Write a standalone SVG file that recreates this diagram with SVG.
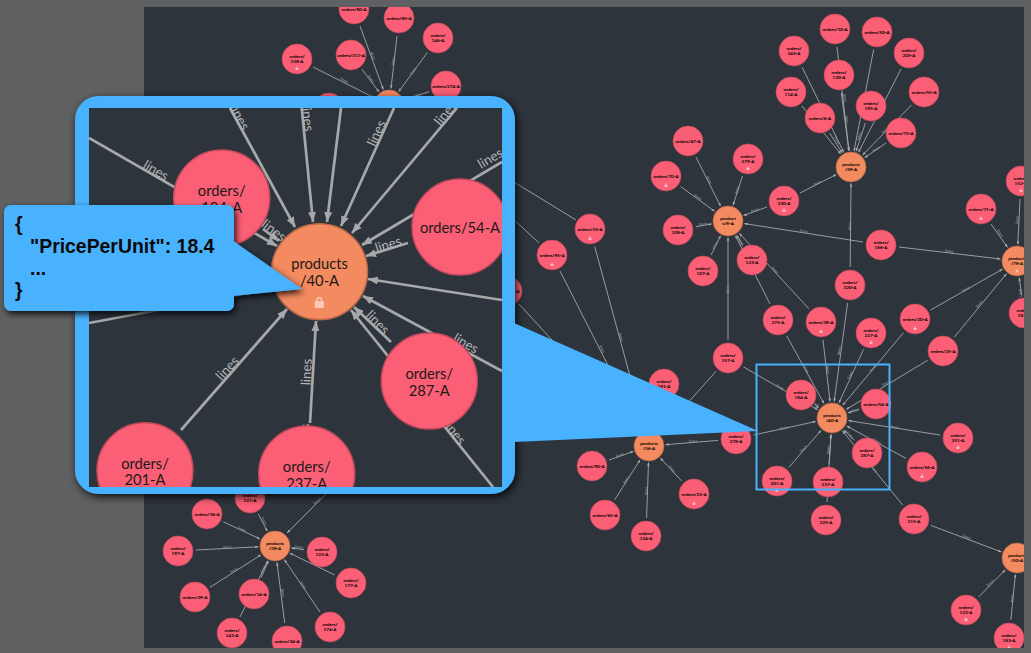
<svg xmlns="http://www.w3.org/2000/svg" width="1031" height="653" viewBox="0 0 1031 653">
<style>
text{font-family:Lato,"Open Sans","Liberation Sans",sans-serif;text-anchor:middle}
.e{stroke:#a6a8a9;stroke-width:.9;fill:none;marker-end:url(#a)}
.i{stroke-width:2.7}
.n{stroke:#a6a8a9;stroke-width:2.7;fill:none}
.l{font-size:4.2px;fill:#98a3ab;dominant-baseline:central}
.li{font-size:13.4px;fill:#b4b6b7;dominant-baseline:central}
.o{fill:#fa5f75;stroke:#c64a5c;stroke-width:.7}
.p{fill:#f48a5f;stroke:#b9684a;stroke-width:.7}
.oi{stroke-width:1.5}
.t{font-size:4.6px;fill:#000;stroke:#000;stroke-width:.12}
.ti{font-size:14.7px;fill:#1a1a1a}
.j{font-family:"Liberation Sans",Arial,sans-serif;font-weight:700;font-size:19.4px;fill:#0a0a0a;text-anchor:start}
.b{fill:#48b2ff}
.lk{fill:#fff;fill-opacity:.55}
</style>
<defs>
<marker id="a" viewBox="0 0 3.7 3" refX="3.7" refY="1.5" markerWidth="3.7" markerHeight="3" orient="auto" markerUnits="strokeWidth"><path d="M0,0L3.7,1.5L0,3Z" fill="#a6a8a9"/></marker>
<g id="lock"><rect x="-4.6" y="-1.6" width="9.2" height="6.8" rx="1.2"/><path d="M-3,-1.6V-2.6a3,3 0 0 1 6,0V-1.6H1.7V-2.6a1.7,1.7 0 0 0 -3.4,0V-1.6Z"/></g>
<clipPath id="cv"><rect x="144" y="7" width="880" height="641"/></clipPath>
<clipPath id="ci"><rect x="89" y="108" width="413" height="379"/></clipPath>
<filter id="sh" x="-10%" y="-10%" width="125%" height="125%"><feDropShadow dx="2" dy="3" stdDeviation="4" flood-color="#000" flood-opacity=".85"/></filter>
<filter id="sh2" x="-10%" y="-15%" width="125%" height="135%"><feDropShadow dx="2" dy="3" stdDeviation="3" flood-color="#000" flood-opacity=".85"/></filter>
</defs>
<rect width="1031" height="653" fill="#5f6062"/>
<rect x="144" y="7" width="880" height="641" fill="#2d343c"/>
<g id="graph" clip-path="url(#cv)">
<g id="connectors">
<line class="e" x1="837" y1="47" x2="849" y2="151"/>
<line class="e" x1="873.6" y1="49.7" x2="854" y2="151"/>
<line class="e" x1="901" y1="69" x2="858.5" y2="152.3"/>
<line class="e" x1="911.5" y1="105" x2="862.5" y2="155.2"/>
<line class="e" x1="802" y1="67" x2="843.7" y2="152.2"/>
<line class="e" x1="841.3" y1="92.8" x2="848.9" y2="150.6"/>
<line class="e" x1="802" y1="106" x2="840.7" y2="154"/>
<line class="e" x1="865.4" y1="123" x2="856" y2="151.3"/>
<line class="e" x1="829.6" y1="133" x2="842.2" y2="153"/>
<line class="e" x1="886" y1="143" x2="864.6" y2="157.7"/>
<line class="e" x1="800" y1="193" x2="836.3" y2="174.5"/>
<line class="e" x1="850.2" y1="267" x2="851" y2="183.5"/>
<line class="e" x1="696" y1="157" x2="720.6" y2="206.2"/>
<line class="e" x1="742.5" y1="176" x2="733" y2="205.3"/>
<line class="e" x1="680.6" y1="186.6" x2="714.7" y2="211.3"/>
<line class="e" x1="695.7" y1="226.8" x2="711.8" y2="223.9"/>
<line class="e" x1="711" y1="255" x2="720.6" y2="235.8"/>
<line class="e" x1="767" y1="207" x2="743.5" y2="215.5"/>
<line class="e" x1="863" y1="242" x2="744.3" y2="223.6"/>
<line class="e" x1="742.6" y1="244.7" x2="736.6" y2="235"/>
<line class="e" x1="770" y1="304" x2="735.4" y2="235.7"/>
<line class="e" x1="808.8" y1="308.7" x2="739.2" y2="233.2"/>
<line class="e" x1="728" y1="340" x2="728" y2="237.5"/>
<line class="e" x1="899" y1="247" x2="1000.6" y2="259"/>
<line class="e" x1="991" y1="224" x2="1007.6" y2="247.4"/>
<line class="e" x1="1020" y1="199" x2="1017.8" y2="244.5"/>
<line class="e" x1="1021.6" y1="295" x2="1019.2" y2="277.4"/>
<line class="e" x1="930.6" y1="310" x2="1002.7" y2="269"/>
<line class="e" x1="954.4" y1="337" x2="1006.5" y2="273.7"/>
<line class="e" x1="815" y1="405" x2="818.8" y2="408.2"/>
<line class="e" x1="743.6" y1="367" x2="817.7" y2="409.8"/>
<line class="e" x1="786.7" y1="335.8" x2="824" y2="403.6"/>
<line class="e" x1="823" y1="340" x2="830" y2="401.6"/>
<line class="e" x1="847.6" y1="303" x2="834.2" y2="401.6"/>
<line class="e" x1="863.5" y1="349.4" x2="838.9" y2="403"/>
<line class="e" x1="903.4" y1="332.8" x2="842.6" y2="405.3"/>
<line class="e" x1="927.6" y1="360.3" x2="846.1" y2="409.5"/>
<line class="e" x1="858.8" y1="409.5" x2="847.7" y2="413"/>
<line class="e" x1="940" y1="435" x2="848.3" y2="420.6"/>
<line class="e" x1="906" y1="458.4" x2="846.5" y2="425.9"/>
<line class="e" x1="854.3" y1="440.3" x2="843.7" y2="429.7"/>
<line class="e" x1="902.7" y1="505" x2="842.4" y2="430.8"/>
<line class="e" x1="788.8" y1="467.4" x2="821.1" y2="430.4"/>
<line class="e" x1="829" y1="464" x2="831" y2="434.5"/>
<line class="e" x1="827" y1="502" x2="831" y2="434.5"/>
<line class="e" x1="753.6" y1="435" x2="815.8" y2="421.5"/>
<line class="e" x1="718" y1="440.4" x2="665.5" y2="444.7"/>
<line class="e" x1="609" y1="460" x2="633.4" y2="451.5"/>
<line class="e" x1="614.7" y1="499.8" x2="640.1" y2="459.9"/>
<line class="e" x1="646.6" y1="518" x2="648.5" y2="462.5"/>
<line class="e" x1="681.7" y1="481" x2="660.3" y2="458"/>
<line class="e" x1="716" y1="371.4" x2="660" y2="433.7"/>
<line class="e" x1="594.7" y1="246.4" x2="644.7" y2="430"/>
<line class="e" x1="560" y1="271" x2="641.5" y2="431.3"/>
<line class="e" x1="519" y1="304" x2="638" y2="434"/>
<line class="e" x1="576" y1="220" x2="401" y2="113"/>
<line class="e" x1="539" y1="243" x2="402" y2="115"/>
<line class="e" x1="360" y1="26" x2="383.3" y2="89.5"/>
<line class="e" x1="397" y1="36" x2="391" y2="88.6"/>
<line class="e" x1="427.4" y1="52.5" x2="398.7" y2="91.7"/>
<line class="e" x1="313" y1="67" x2="374.2" y2="97.6"/>
<line class="e" x1="362" y1="69.3" x2="379" y2="91.9"/>
<line class="e" x1="429" y1="91.7" x2="404.7" y2="99.8"/>
<line class="e" x1="223.3" y1="521.7" x2="260" y2="539"/>
<line class="e" x1="258.3" y1="514" x2="267.4" y2="531.4"/>
<line class="e" x1="196" y1="550" x2="258.5" y2="546.8"/>
<line class="e" x1="210" y1="587.3" x2="261" y2="554.9"/>
<line class="e" x1="261.2" y1="577.5" x2="268.4" y2="561"/>
<line class="e" x1="240" y1="616.9" x2="267.7" y2="560.8"/>
<line class="e" x1="284.7" y1="623" x2="277" y2="562.4"/>
<line class="e" x1="320" y1="612" x2="284.3" y2="559.6"/>
<line class="e" x1="334.8" y1="575" x2="289.8" y2="553.2"/>
<line class="e" x1="304" y1="549.7" x2="291.4" y2="548"/>
<line class="e" x1="340" y1="480" x2="287" y2="533"/>
<line class="e" x1="930.8" y1="525.4" x2="1001.6" y2="552"/>
<line class="e" x1="978.6" y1="597" x2="1005.4" y2="569.8"/>
<line class="e" x1="1010.8" y1="620" x2="1015.4" y2="574.4"/>
<g id="edge-labels">
<text class="l" transform="translate(847 120) rotate(83)">lines</text>
<text class="l" transform="translate(859 136) rotate(-72)">lines</text>
<text class="l" transform="translate(885 130) rotate(-45)">lines</text>
<text class="l" transform="translate(845 98) rotate(82)">lines</text>
<text class="l" transform="translate(837 140) rotate(58)">lines</text>
<text class="l" transform="translate(876 149) rotate(-34)">lines</text>
<text class="l" transform="translate(817 183) rotate(-27)">lines</text>
<text class="l" transform="translate(849 226) rotate(-90)">lines</text>
<text class="l" transform="translate(709 180) rotate(63)">lines</text>
<text class="l" transform="translate(737 190) rotate(-72)">lines</text>
<text class="l" transform="translate(698 197) rotate(36)">lines</text>
<text class="l" transform="translate(703 224) rotate(-10)">lines</text>
<text class="l" transform="translate(715 245) rotate(-63)">lines</text>
<text class="l" transform="translate(755 210) rotate(-19)">lines</text>
<text class="l" transform="translate(804 231) rotate(9)">lines</text>
<text class="l" transform="translate(741 242) rotate(58)">lines</text>
<text class="l" transform="translate(775 270) rotate(47)">lines</text>
<text class="l" transform="translate(727 289) rotate(-90)">lines</text>
<text class="l" transform="translate(949 251) rotate(7)">lines</text>
<text class="l" transform="translate(1000 233) rotate(55)">lines</text>
<text class="l" transform="translate(1017 220) rotate(-87)">lines</text>
<text class="l" transform="translate(1021 293) rotate(82)">lines</text>
<text class="l" transform="translate(966 289) rotate(-30)">lines</text>
<text class="l" transform="translate(979 304) rotate(-50)">lines</text>
<text class="l" transform="translate(816 404) rotate(37)">lines</text>
<text class="l" transform="translate(780 387) rotate(30)">lines</text>
<text class="l" transform="translate(806 369) rotate(61)">lines</text>
<text class="l" transform="translate(828 370) rotate(83)">lines</text>
<text class="l" transform="translate(839 351) rotate(-82)">lines</text>
<text class="l" transform="translate(850 375) rotate(-65)">lines</text>
<text class="l" transform="translate(873 368) rotate(-50)">lines</text>
<text class="l" transform="translate(886 383) rotate(-31)">lines</text>
<text class="l" transform="translate(855 410) rotate(-17)">lines</text>
<text class="l" transform="translate(895 427) rotate(9)">lines</text>
<text class="l" transform="translate(877 441) rotate(28)">lines</text>
<text class="l" transform="translate(850 435) rotate(45)">lines</text>
<text class="l" transform="translate(874 469) rotate(52)">lines</text>
<text class="l" transform="translate(803 449) rotate(-47)">lines</text>
<text class="l" transform="translate(828 450) rotate(-87)">lines</text>
<text class="l" transform="translate(784 428) rotate(-12)">lines</text>
<text class="l" transform="translate(693 441) rotate(-5)">lines</text>
<text class="l" transform="translate(620 455) rotate(-19)">lines</text>
<text class="l" transform="translate(626 480) rotate(-57)">lines</text>
<text class="l" transform="translate(646 491) rotate(-88)">lines</text>
<text class="l" transform="translate(672 469) rotate(47)">lines</text>
<text class="l" transform="translate(621 337) rotate(75)">lines</text>
<text class="l" transform="translate(602 349) rotate(63)">lines</text>
<text class="l" transform="translate(373 56) rotate(70)">lines</text>
<text class="l" transform="translate(393 61) rotate(-83)">lines</text>
<text class="l" transform="translate(413 71) rotate(-54)">lines</text>
<text class="l" transform="translate(344 80) rotate(27)">lines</text>
<text class="l" transform="translate(371 79) rotate(52)">lines</text>
<text class="l" transform="translate(417 95) rotate(-18)">lines</text>
<text class="l" transform="translate(242 529) rotate(25)">lines</text>
<text class="l" transform="translate(264 521) rotate(62)">lines</text>
<text class="l" transform="translate(227 547) rotate(-3)">lines</text>
<text class="l" transform="translate(234 570) rotate(-32)">lines</text>
<text class="l" transform="translate(263 569) rotate(-65)">lines</text>
<text class="l" transform="translate(283 593) rotate(83)">lines</text>
<text class="l" transform="translate(303 585) rotate(55)">lines</text>
<text class="l" transform="translate(299 547) rotate(7)">lines</text>
<text class="l" transform="translate(317 501) rotate(-46)">lines</text>
<text class="l" transform="translate(967 537) rotate(21)">lines</text>
<text class="l" transform="translate(990 583) rotate(-46)">lines</text>
<text class="l" transform="translate(1012 598) rotate(-85)">lines</text>
</g>
</g>
<g id="nodes">
<g id="products-39-A" transform="translate(851 167)"><circle class="p" r="15"/><text class="t" y="-.8">products</text><text class="t" y="4.4">/39-A</text></g>
<g id="products-8-A" transform="translate(728 221)"><circle class="p" r="15"/><text class="t" y="-.8">product</text><text class="t" y="4.4">s/8-A</text></g>
<g id="products-78-A" transform="translate(1017 261)"><circle class="p" r="15"/><text class="t" y="-.8">products</text><text class="t" y="4.4">/78-A</text><use href="#lock" class="lk" transform="translate(0 10) scale(.31)"/></g>
<g id="products-40-A" transform="translate(832 418)"><circle class="p" r="15"/><text class="t" y="-.8">products</text><text class="t" y="4.4">/40-A</text></g>
<g id="products-36-A" transform="translate(649 446)"><circle class="p" r="15"/><text class="t" y="-.8">products</text><text class="t" y="4.4">/36-A</text></g>
<g id="products-50-A" transform="translate(1017 558)"><circle class="p" r="15"/><text class="t" y="-.8">products</text><text class="t" y="4.4">/50-A</text></g>
<g id="products-28-A" transform="translate(275 546)"><circle class="p" r="15"/><text class="t" y="-.8">products</text><text class="t" y="4.4">/28-A</text></g>
<g id="products-top" transform="translate(389 105)"><circle class="p" r="15"/></g>
<g id="orders-10-A" transform="translate(835 29)"><circle class="o" r="15"/><text class="t" y="1.8">orders/10-A</text></g>
<g id="orders-50-A" transform="translate(877 32)"><circle class="o" r="15"/><text class="t" y="1.8">orders/50-A</text></g>
<g id="orders-205-A" transform="translate(909 53)"><circle class="o" r="15"/><text class="t" y="-.8">orders/</text><text class="t" y="4.4">205-A</text></g>
<g id="orders-55-A" transform="translate(924 92)"><circle class="o" r="15"/><text class="t" y="1.8">orders/55-A</text></g>
<g id="orders-243-A" transform="translate(794 51)"><circle class="o" r="15"/><text class="t" y="-.8">orders/</text><text class="t" y="4.4">243-A</text></g>
<g id="orders-130-A" transform="translate(839 75)"><circle class="o" r="15"/><text class="t" y="-.8">orders/</text><text class="t" y="4.4">130-A</text></g>
<g id="orders-114-A" transform="translate(791 92)"><circle class="o" r="15"/><text class="t" y="-.8">orders/</text><text class="t" y="4.4">114-A</text></g>
<g id="orders-195-A" transform="translate(871 106)"><circle class="o" r="15"/><text class="t" y="-.8">orders/</text><text class="t" y="4.4">195-A</text></g>
<g id="orders-6-A" transform="translate(820 118)"><circle class="o" r="15"/><text class="t" y="1.8">orders/6-A</text></g>
<g id="orders-73-A" transform="translate(901 133)"><circle class="o" r="15"/><text class="t" y="1.8">orders/73-A</text></g>
<g id="orders-230-A" transform="translate(784 201)"><circle class="o" r="15"/><text class="t" y="-.8">orders/</text><text class="t" y="4.4">230-A</text><use href="#lock" class="lk" transform="translate(0 9.3) scale(.31)"/></g>
<g id="orders-47-A" transform="translate(688 141)"><circle class="o" r="15"/><text class="t" y="1.8">orders/47-A</text></g>
<g id="orders-279-A" transform="translate(748 159)"><circle class="o" r="15"/><text class="t" y="-.8">orders/</text><text class="t" y="4.4">279-A</text><use href="#lock" class="lk" transform="translate(0 9.3) scale(.31)"/></g>
<g id="orders-70-A" transform="translate(666 176)"><circle class="o" r="15"/><text class="t" y="1.8">orders/70-A</text><use href="#lock" class="lk" transform="translate(0 9.3) scale(.31)"/></g>
<g id="orders-108-A" transform="translate(678 230)"><circle class="o" r="15"/><text class="t" y="-.8">orders/</text><text class="t" y="4.4">108-A</text></g>
<g id="orders-107-A" transform="translate(703 271)"><circle class="o" r="15"/><text class="t" y="-.8">orders/</text><text class="t" y="4.4">107-A</text></g>
<g id="orders-123-A" transform="translate(752 260)"><circle class="o" r="15"/><text class="t" y="-.8">orders/</text><text class="t" y="4.4">123-A</text></g>
<g id="orders-275-A" transform="translate(778 320)"><circle class="o" r="15"/><text class="t" y="-.8">orders/</text><text class="t" y="4.4">275-A</text></g>
<g id="orders-38-A" transform="translate(821 322)"><circle class="o" r="15"/><text class="t" y="1.8">orders/38-A</text><use href="#lock" class="lk" transform="translate(0 9.3) scale(.31)"/></g>
<g id="orders-166-A" transform="translate(881 245)"><circle class="o" r="15"/><text class="t" y="-.8">orders/</text><text class="t" y="4.4">166-A</text></g>
<g id="orders-320-A" transform="translate(850 285)"><circle class="o" r="15"/><text class="t" y="-.8">orders/</text><text class="t" y="4.4">320-A</text></g>
<g id="orders-71-A" transform="translate(981 209)"><circle class="o" r="15"/><text class="t" y="1.8">orders/71-A</text><use href="#lock" class="lk" transform="translate(0 9.3) scale(.31)"/></g>
<g id="orders-152-A" transform="translate(1021 181)"><circle class="o" r="15"/><text class="t" y="-.8">orders/</text><text class="t" y="4.4">152-A</text><use href="#lock" class="lk" transform="translate(0 9.3) scale(.31)"/></g>
<g id="orders-182-A" transform="translate(1024 313)"><circle class="o" r="15"/><text class="t" y="-.8">orders/</text><text class="t" y="4.4">182-A</text></g>
<g id="orders-20-A" transform="translate(915 319)"><circle class="o" r="15"/><text class="t" y="1.8">orders/20-A</text><use href="#lock" class="lk" transform="translate(0 9.3) scale(.31)"/></g>
<g id="orders-227-A" transform="translate(871 333)"><circle class="o" r="15"/><text class="t" y="-.8">orders/</text><text class="t" y="4.4">227-A</text><use href="#lock" class="lk" transform="translate(0 9.3) scale(.31)"/></g>
<g id="orders-25-A" transform="translate(943 351)"><circle class="o" r="15"/><text class="t" y="1.8">orders/25-A</text></g>
<g id="orders-54-A" transform="translate(876 404)"><circle class="o" r="15"/><text class="t" y="1.8">orders/54-A</text></g>
<g id="orders-184-A" transform="translate(801 395)"><circle class="o" r="15"/><text class="t" y="-.8">orders/</text><text class="t" y="4.4">184-A</text></g>
<g id="orders-157-A" transform="translate(728 358)"><circle class="o" r="15"/><text class="t" y="-.8">orders/</text><text class="t" y="4.4">157-A</text></g>
<g id="orders-278-A" transform="translate(736 439)"><circle class="o" r="15"/><text class="t" y="-.8">orders/</text><text class="t" y="4.4">278-A</text></g>
<g id="orders-251-A" transform="translate(958 438)"><circle class="o" r="15"/><text class="t" y="-.8">orders/</text><text class="t" y="4.4">251-A</text><use href="#lock" class="lk" transform="translate(0 9.3) scale(.31)"/></g>
<g id="orders-56-A" transform="translate(922 467)"><circle class="o" r="15"/><text class="t" y="1.8">orders/56-A</text><use href="#lock" class="lk" transform="translate(0 9.3) scale(.31)"/></g>
<g id="orders-287-A" transform="translate(867 453)"><circle class="o" r="15"/><text class="t" y="-.8">orders/</text><text class="t" y="4.4">287-A</text></g>
<g id="orders-201-A" transform="translate(777 481)"><circle class="o" r="15"/><text class="t" y="-.8">orders/</text><text class="t" y="4.4">201-A</text><use href="#lock" class="lk" transform="translate(0 9.3) scale(.31)"/></g>
<g id="orders-237-A" transform="translate(828 482)"><circle class="o" r="15"/><text class="t" y="-.8">orders/</text><text class="t" y="4.4">237-A</text></g>
<g id="orders-225-A" transform="translate(826 520)"><circle class="o" r="15"/><text class="t" y="-.8">orders/</text><text class="t" y="4.4">225-A</text></g>
<g id="orders-315-A" transform="translate(914 519)"><circle class="o" r="15"/><text class="t" y="-.8">orders/</text><text class="t" y="4.4">315-A</text></g>
<g id="orders-122-A" transform="translate(966 610)"><circle class="o" r="15"/><text class="t" y="-.8">orders/</text><text class="t" y="4.4">122-A</text><use href="#lock" class="lk" transform="translate(0 9.3) scale(.31)"/></g>
<g id="orders-183-A" transform="translate(1009 638)"><circle class="o" r="15"/><text class="t" y="-.8">orders/</text><text class="t" y="4.4">183-A</text><use href="#lock" class="lk" transform="translate(0 9.3) scale(.31)"/></g>
<g id="orders-90-A" transform="translate(592 466)"><circle class="o" r="15"/><text class="t" y="1.8">orders/90-A</text></g>
<g id="orders-65-A" transform="translate(605 515)"><circle class="o" r="15"/><text class="t" y="1.8">orders/65-A</text></g>
<g id="orders-124-A" transform="translate(646 536)"><circle class="o" r="15"/><text class="t" y="-.8">orders/</text><text class="t" y="4.4">124-A</text></g>
<g id="orders-23-A" transform="translate(694 494)"><circle class="o" r="15"/><text class="t" y="1.8">orders/23-A</text><use href="#lock" class="lk" transform="translate(0 9.3) scale(.31)"/></g>
<g id="orders-191-A" transform="translate(664 384)"><circle class="o" r="15"/><text class="t" y="-.8">orders/</text><text class="t" y="4.4">191-A</text></g>
<g id="orders-53-A" transform="translate(590 229)"><circle class="o" r="15"/><text class="t" y="1.8">orders/53-A</text><use href="#lock" class="lk" transform="translate(0 9.3) scale(.31)"/></g>
<g id="orders-95-A" transform="translate(552 255)"><circle class="o" r="15"/><text class="t" y="1.8">orders/95-A</text><use href="#lock" class="lk" transform="translate(0 9.3) scale(.31)"/></g>
<g id="orders-88-A" transform="translate(507 291)"><circle class="o" r="15"/><text class="t" y="1.8">orders/88-A</text></g>
<g id="orders-80-A" transform="translate(354 9)"><circle class="o" r="15"/><text class="t" y="1.8">orders/80-A</text></g>
<g id="orders-85-A" transform="translate(399 18)"><circle class="o" r="15"/><text class="t" y="1.8">orders/85-A</text></g>
<g id="orders-146-A" transform="translate(438 38)"><circle class="o" r="15"/><text class="t" y="-.8">orders/</text><text class="t" y="4.4">146-A</text></g>
<g id="orders-238-A" transform="translate(297 59)"><circle class="o" r="15"/><text class="t" y="-.8">orders/</text><text class="t" y="4.4">238-A</text><use href="#lock" class="lk" transform="translate(0 9.3) scale(.31)"/></g>
<g id="orders-311-A" transform="translate(351 55)"><circle class="o" r="15"/><text class="t" y="1.8">orders/311-A</text></g>
<g id="orders-274-A-top" transform="translate(446 86)"><circle class="o" r="15"/><text class="t" y="1.8">orders/274-A</text></g>
<g id="orders-top" transform="translate(329 108)"><circle class="o" r="15"/></g>
<g id="orders-74-A" transform="translate(207 514)"><circle class="o" r="15"/><text class="t" y="1.8">orders/74-A</text></g>
<g id="orders-121-A" transform="translate(250 498)"><circle class="o" r="15"/><text class="t" y="-.8">orders/</text><text class="t" y="4.4">121-A</text></g>
<g id="orders-197-A" transform="translate(178 551)"><circle class="o" r="15"/><text class="t" y="-.8">orders/</text><text class="t" y="4.4">197-A</text></g>
<g id="orders-123-A-b" transform="translate(322 552)"><circle class="o" r="15"/><text class="t" y="-.8">orders/</text><text class="t" y="4.4">123-A</text></g>
<g id="orders-177-A" transform="translate(351 583)"><circle class="o" r="15"/><text class="t" y="-.8">orders/</text><text class="t" y="4.4">177-A</text></g>
<g id="orders-29-A" transform="translate(195 597)"><circle class="o" r="15"/><text class="t" y="1.8">orders/29-A</text></g>
<g id="orders-14-A" transform="translate(254 594)"><circle class="o" r="15"/><text class="t" y="1.8">orders/14-A</text></g>
<g id="orders-274-A" transform="translate(330 627)"><circle class="o" r="15"/><text class="t" y="-.8">orders/</text><text class="t" y="4.4">274-A</text></g>
<g id="orders-142-A" transform="translate(232 633)"><circle class="o" r="15"/><text class="t" y="-.8">orders/</text><text class="t" y="4.4">142-A</text></g>
<g id="orders-34-A" transform="translate(287 641)"><circle class="o" r="15"/><text class="t" y="1.8">orders/34-A</text></g>
</g>
</g>
<rect id="selection" x="756.5" y="364.5" width="133" height="125" fill="none" stroke="#48b2ff" stroke-width="2"/>
<g id="magnifier">
<rect class="b" x="75" y="96" width="440" height="398" rx="24" filter="url(#sh)"/>
<polygon class="b" points="514,323 758,431 514,442"/>
<rect x="89" y="108" width="413" height="379" fill="#2d343c"/>
<g id="inset" clip-path="url(#ci)">
<g id="inset-connectors">
<line class="e i" x1="89" y1="138" x2="277" y2="246"/>
<line class="e i" x1="263" y1="229" x2="279" y2="241"/>
<line class="e i" x1="230" y1="108" x2="295" y2="227"/>
<line class="e i" x1="301.7" y1="108" x2="313" y2="222"/>
<line class="e i" x1="341" y1="108" x2="327" y2="222"/>
<line class="e i" x1="394" y1="108" x2="341" y2="226"/>
<line class="e i" x1="457" y1="108" x2="352" y2="233"/>
<line class="e i" x1="502" y1="162" x2="362" y2="245"/>
<line class="e i" x1="408" y1="243" x2="366" y2="256"/>
<line class="e i" x1="502" y1="300" x2="368" y2="279"/>
<line class="e i" x1="502" y1="371" x2="363" y2="296"/>
<line class="e i" x1="391" y1="342" x2="354" y2="307"/>
<line class="e i" x1="493" y1="487" x2="351" y2="310"/>
<line class="e i" x1="181" y1="430" x2="287" y2="309"/>
<line class="e i" x1="310" y1="423" x2="316" y2="321"/>
<line class="n" x1="89" y1="323" x2="275" y2="288"/>
<text class="li" transform="translate(156 170) rotate(30)">lines</text>
<text class="li" transform="translate(274 230) rotate(37)">lines</text>
<text class="li" transform="translate(240 117) rotate(62)">lines</text>
<text class="li" transform="translate(308 118) rotate(83)">lines</text>
<text class="li" transform="translate(376 133) rotate(-65)">lines</text>
<text class="li" transform="translate(445 113) rotate(-50)">lines</text>
<text class="li" transform="translate(490 158) rotate(-30)">lines</text>
<text class="li" transform="translate(388 244) rotate(-17)">lines</text>
<text class="li" transform="translate(466 343) rotate(30)">lines</text>
<text class="li" transform="translate(378 322) rotate(45)">lines</text>
<text class="li" transform="translate(455 432) rotate(52)">lines</text>
<text class="li" transform="translate(227 368) rotate(-47)">lines</text>
<text class="li" transform="translate(306 372) rotate(-87)">lines</text>
<text class="li" transform="translate(304 437) rotate(-87)">lines</text>
</g>
<g id="inset-products-40-A"><circle class="p oi" cx="319.5" cy="271.7" r="48"/><text class="ti" x="319.5" y="269">products<tspan x="319.5" dy="17">/40-A</tspan></text><use href="#lock" class="lk" transform="translate(319.3 302.7)"/></g>
<g id="inset-orders-184-A"><circle class="o oi" cx="221.7" cy="198" r="48"/><text class="ti" x="221.7" y="196">orders/<tspan x="221.7" dy="16.7">184-A</tspan></text></g>
<g id="inset-orders-54-A"><circle class="o oi" cx="460" cy="227" r="48"/><text class="ti" x="460" y="232.7">orders/54-A</text></g>
<g id="inset-orders-287-A"><circle class="o oi" cx="429.3" cy="381" r="48"/><text class="ti" x="429.3" y="379.3">orders/<tspan x="429.3" dy="16.7">287-A</tspan></text></g>
<g id="inset-orders-201-A"><circle class="o oi" cx="145" cy="470.7" r="48"/><text class="ti" x="145" y="468.7">orders/<tspan x="145" dy="16.7">201-A</tspan></text></g>
<g id="inset-orders-237-A"><circle class="o oi" cx="306.7" cy="474" r="48"/><text class="ti" x="306.7" y="472">orders/<tspan x="306.7" dy="16.7">237-A</tspan></text></g>
</g>
</g>
<g id="tooltip" filter="url(#sh2)">
<rect class="b" x="4" y="205" width="230" height="106" rx="7"/>
<polygon class="b" points="232,240 302,289 232,296"/>
</g>
<g id="tooltip-text">
<text class="j" x="15" y="231">{</text>
<text class="j" x="30" y="253">"PricePerUnit": 18.4</text>
<text class="j" x="30" y="275">...</text>
<text class="j" x="15" y="297">}</text>
</g>
</svg>
